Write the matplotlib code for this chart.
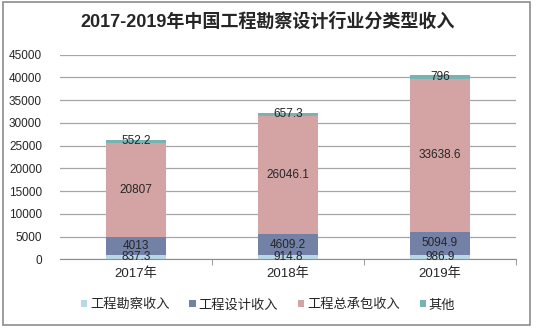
import matplotlib.pyplot as plt
import matplotlib.patches as patches
import numpy as np

plt.rcParams['font.family'] = ['Liberation Sans', 'Noto Sans CJK SC', 'DejaVu Sans']

years = ['2017年', '2018年', '2019年']
survey = [837.3, 914.8, 986.9]
design = [4013, 4609.2, 5094.9]
contract = [20807, 26046.1, 33638.6]
other = [552.2, 657.3, 796]

series = [('工程勘察收入', survey, '#b9d8e6'),
          ('工程设计收入', design, '#7381a6'),
          ('工程总承包收入', contract, '#d4a4a4'),
          ('其他', other, '#78b3b3')]

fig = plt.figure(figsize=(5.36, 3.30), dpi=100)
ax = fig.add_axes([60 / 536, 1 - 259.3 / 330, 456 / 536, 204.8 / 330])

x = np.arange(len(years))
bottom = np.zeros(len(years))
for name, vals, col in series:
    vals = np.array(vals, dtype=float)
    ax.bar(x, vals, 0.4, bottom=bottom, color=col, label=name, zorder=2)
    for xi, b, v in zip(x, bottom, vals):
        txt = ('%g' % v)
        ax.text(xi, b + v / 2, txt, ha='center', va='center', fontsize=8.5,
                color='#262626', zorder=3)
    bottom += vals

ax.set_xlim(-0.5, 2.5)
ax.set_ylim(0, 45000)
ax.set_yticks(np.arange(0, 45001, 5000))
ax.yaxis.grid(True, color='#a6a6a6', linewidth=0.9, zorder=0)
ax.set_axisbelow(True)
for s in ['top', 'right', 'left']:
    ax.spines[s].set_visible(False)
ax.spines['bottom'].set_color('#8c8c8c')
ax.tick_params(axis='y', length=0, labelsize=8.5, pad=13, labelcolor='#262626')
ax.set_xticks(x)
ax.set_xticklabels(years, fontsize=9.5, color='#262626')
ax.set_xticks([0.5, 1.5, 2.5], minor=True)
ax.tick_params(axis='x', which='major', length=0, pad=6)
ax.tick_params(axis='x', which='minor', length=4, color='#8c8c8c')

fig.text(0.5, 1 - 22 / 330, '2017-2019年中国工程勘察设计行业分类型收入', ha='center', va='center',
         fontsize=13, fontweight='bold', color='#262626')

leg = fig.legend(loc='center', bbox_to_anchor=(0.5, 1 - 305 / 330), ncol=4, frameon=False,
                 fontsize=9.5, handlelength=0.5, handleheight=0.5, handletextpad=0.2,
                 columnspacing=1.5)
for t in leg.get_texts():
    t.set_color('#262626')

fig.patches.append(patches.Rectangle((3 / 536, 1 - 325 / 330), 527 / 536, 323 / 330,
                                     transform=fig.transFigure, fill=False,
                                     edgecolor='#8c8c8c', linewidth=1.2))

fig.savefig('out.png', dpi=100)
